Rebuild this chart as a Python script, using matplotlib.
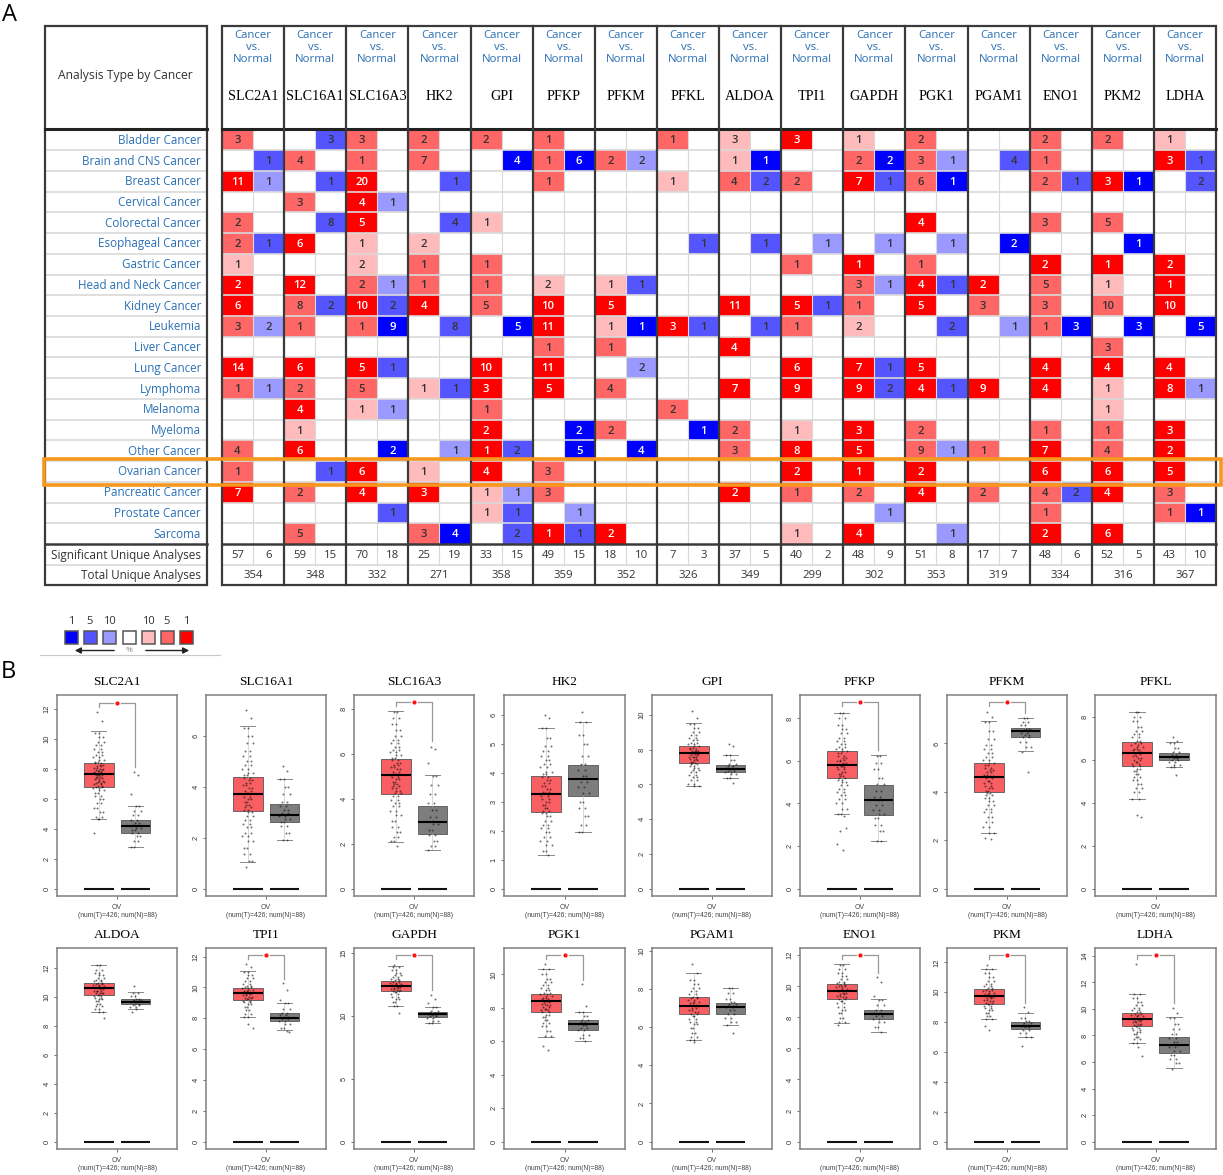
#!/usr/bin/env python3
"""Oncomine summary table (A) and GEPIA box plots for ovarian cancer (B)."""

import matplotlib
matplotlib.use("Agg")
import matplotlib.pyplot as plt
import numpy as np
from matplotlib.colors import ListedColormap
from matplotlib.patches import Rectangle

W, H = 1223, 1175

# ---- panel A data ----
GENES_A = ["SLC2A1", "SLC16A1", "SLC16A3", "HK2", "GPI", "PFKP", "PFKM", "PFKL",
           "ALDOA", "TPI1", "GAPDH", "PGK1", "PGAM1", "ENO1", "PKM2", "LDHA"]
CANCERS = ["Bladder Cancer", "Brain and CNS Cancer", "Breast Cancer", "Cervical Cancer",
           "Colorectal Cancer", "Esophageal Cancer", "Gastric Cancer", "Head and Neck Cancer",
           "Kidney Cancer", "Leukemia", "Liver Cancer", "Lung Cancer", "Lymphoma", "Melanoma",
           "Myeloma", "Other Cancer", "Ovarian Cancer", "Pancreatic Cancer", "Prostate Cancer",
           "Sarcoma"]
UP_COUNT = [
    [3, 0, 3, 2, 2, 1, 0, 1, 3, 3, 1, 2, 0, 2, 2, 1],
    [0, 4, 1, 7, 0, 1, 2, 0, 1, 0, 2, 3, 0, 1, 0, 3],
    [11, 0, 20, 0, 0, 1, 0, 1, 4, 2, 7, 6, 0, 2, 3, 0],
    [0, 3, 4, 0, 0, 0, 0, 0, 0, 0, 0, 0, 0, 0, 0, 0],
    [2, 0, 5, 0, 1, 0, 0, 0, 0, 0, 0, 4, 0, 3, 5, 0],
    [2, 6, 1, 2, 0, 0, 0, 0, 0, 0, 0, 0, 0, 0, 0, 0],
    [1, 0, 2, 1, 1, 0, 0, 0, 0, 1, 1, 1, 0, 2, 1, 2],
    [2, 12, 2, 1, 1, 2, 1, 0, 0, 0, 3, 4, 2, 5, 1, 1],
    [6, 8, 10, 4, 5, 10, 5, 0, 11, 5, 1, 5, 3, 3, 10, 10],
    [3, 1, 1, 0, 0, 11, 1, 3, 0, 1, 2, 0, 0, 1, 0, 0],
    [0, 0, 0, 0, 0, 1, 1, 0, 4, 0, 0, 0, 0, 0, 3, 0],
    [14, 6, 5, 0, 10, 11, 0, 0, 0, 6, 7, 5, 0, 4, 4, 4],
    [1, 2, 5, 1, 3, 5, 4, 0, 7, 9, 9, 4, 9, 4, 1, 8],
    [0, 4, 1, 0, 1, 0, 0, 2, 0, 0, 0, 0, 0, 0, 1, 0],
    [0, 1, 0, 0, 2, 0, 2, 0, 2, 1, 3, 2, 0, 1, 1, 3],
    [4, 6, 0, 0, 1, 0, 0, 0, 3, 8, 5, 9, 1, 7, 4, 2],
    [1, 0, 6, 1, 4, 3, 0, 0, 0, 2, 1, 2, 0, 6, 6, 5],
    [7, 2, 4, 3, 1, 3, 0, 0, 2, 1, 2, 4, 2, 4, 4, 3],
    [0, 0, 0, 0, 1, 0, 0, 0, 0, 0, 0, 0, 0, 1, 0, 1],
    [0, 5, 0, 3, 0, 1, 2, 0, 0, 1, 4, 0, 0, 2, 6, 0],
]
# gene rank bucket of each cell: 1, 5 or 10 (% of top genes), 0 = no analysis
UP_RANK = [
    [5, 0, 5, 5, 5, 5, 0, 5, 10, 1, 10, 5, 0, 5, 5, 10],
    [0, 5, 5, 5, 0, 5, 5, 0, 10, 0, 5, 5, 0, 5, 0, 1],
    [1, 0, 1, 0, 0, 5, 0, 10, 5, 5, 1, 5, 0, 5, 1, 0],
    [0, 5, 1, 0, 0, 0, 0, 0, 0, 0, 0, 0, 0, 0, 0, 0],
    [5, 0, 1, 0, 10, 0, 0, 0, 0, 0, 0, 1, 0, 5, 5, 0],
    [5, 1, 10, 10, 0, 0, 0, 0, 0, 0, 0, 0, 0, 0, 0, 0],
    [10, 0, 10, 5, 5, 0, 0, 0, 0, 5, 1, 5, 0, 1, 1, 1],
    [1, 1, 5, 5, 5, 10, 10, 0, 0, 0, 5, 1, 1, 5, 10, 1],
    [1, 5, 1, 1, 5, 1, 1, 0, 1, 1, 5, 1, 5, 5, 5, 1],
    [5, 5, 5, 0, 0, 1, 10, 1, 0, 5, 10, 0, 0, 5, 0, 0],
    [0, 0, 0, 0, 0, 5, 5, 0, 1, 0, 0, 0, 0, 0, 5, 0],
    [1, 1, 1, 0, 1, 1, 0, 0, 0, 1, 1, 1, 0, 1, 1, 1],
    [5, 5, 5, 10, 1, 1, 5, 0, 1, 1, 1, 1, 1, 1, 10, 1],
    [0, 1, 10, 0, 5, 0, 0, 5, 0, 0, 0, 0, 0, 0, 10, 0],
    [0, 10, 0, 0, 1, 0, 5, 0, 5, 10, 1, 5, 0, 5, 5, 1],
    [5, 1, 0, 0, 1, 0, 0, 0, 5, 1, 1, 5, 5, 1, 5, 1],
    [5, 0, 1, 10, 1, 5, 0, 0, 0, 1, 1, 1, 0, 1, 1, 1],
    [1, 5, 1, 1, 10, 5, 0, 0, 1, 5, 5, 1, 5, 5, 1, 5],
    [0, 0, 0, 0, 10, 0, 0, 0, 0, 0, 0, 0, 0, 5, 0, 5],
    [0, 5, 0, 5, 0, 1, 1, 0, 0, 10, 1, 0, 0, 1, 1, 0],
]
DOWN_COUNT = [
    [0, 3, 0, 0, 0, 0, 0, 0, 0, 0, 0, 0, 0, 0, 0, 0],
    [1, 0, 0, 0, 4, 6, 2, 0, 1, 0, 2, 1, 4, 0, 0, 1],
    [1, 1, 0, 1, 0, 0, 0, 0, 2, 0, 1, 1, 0, 1, 1, 2],
    [0, 0, 1, 0, 0, 0, 0, 0, 0, 0, 0, 0, 0, 0, 0, 0],
    [0, 8, 0, 4, 0, 0, 0, 0, 0, 0, 0, 0, 0, 0, 0, 0],
    [1, 0, 0, 0, 0, 0, 0, 1, 1, 1, 1, 1, 2, 0, 1, 0],
    [0, 0, 0, 0, 0, 0, 0, 0, 0, 0, 0, 0, 0, 0, 0, 0],
    [0, 0, 1, 0, 0, 0, 1, 0, 0, 0, 1, 1, 0, 0, 0, 0],
    [0, 2, 2, 0, 0, 0, 0, 0, 0, 1, 0, 0, 0, 0, 0, 0],
    [2, 0, 9, 8, 5, 0, 1, 1, 1, 0, 0, 2, 1, 3, 3, 5],
    [0, 0, 0, 0, 0, 0, 0, 0, 0, 0, 0, 0, 0, 0, 0, 0],
    [0, 0, 1, 0, 0, 0, 2, 0, 0, 0, 1, 0, 0, 0, 0, 0],
    [1, 0, 0, 1, 0, 0, 0, 0, 0, 0, 2, 1, 0, 0, 0, 1],
    [0, 0, 1, 0, 0, 0, 0, 0, 0, 0, 0, 0, 0, 0, 0, 0],
    [0, 0, 0, 0, 0, 2, 0, 1, 0, 0, 0, 0, 0, 0, 0, 0],
    [0, 0, 2, 1, 2, 5, 4, 0, 0, 0, 0, 1, 0, 0, 0, 0],
    [0, 1, 0, 0, 0, 0, 0, 0, 0, 0, 0, 0, 0, 0, 0, 0],
    [0, 0, 0, 0, 1, 0, 0, 0, 0, 0, 0, 0, 0, 2, 0, 0],
    [0, 0, 1, 0, 1, 1, 0, 0, 0, 0, 1, 0, 0, 0, 0, 1],
    [0, 0, 0, 4, 2, 1, 0, 0, 0, 0, 0, 1, 0, 0, 0, 0],
]
DOWN_RANK = [
    [0, 5, 0, 0, 0, 0, 0, 0, 0, 0, 0, 0, 0, 0, 0, 0],
    [5, 0, 0, 0, 1, 1, 10, 0, 1, 0, 1, 10, 5, 0, 0, 5],
    [10, 5, 0, 5, 0, 0, 0, 0, 5, 0, 5, 1, 0, 5, 1, 5],
    [0, 0, 10, 0, 0, 0, 0, 0, 0, 0, 0, 0, 0, 0, 0, 0],
    [0, 5, 0, 5, 0, 0, 0, 0, 0, 0, 0, 0, 0, 0, 0, 0],
    [5, 0, 0, 0, 0, 0, 0, 5, 5, 10, 10, 10, 1, 0, 1, 0],
    [0, 0, 0, 0, 0, 0, 0, 0, 0, 0, 0, 0, 0, 0, 0, 0],
    [0, 0, 10, 0, 0, 0, 5, 0, 0, 0, 10, 5, 0, 0, 0, 0],
    [0, 5, 5, 0, 0, 0, 0, 0, 0, 5, 0, 0, 0, 0, 0, 0],
    [10, 0, 1, 5, 1, 0, 1, 5, 5, 0, 0, 5, 10, 1, 1, 1],
    [0, 0, 0, 0, 0, 0, 0, 0, 0, 0, 0, 0, 0, 0, 0, 0],
    [0, 0, 5, 0, 0, 0, 10, 0, 0, 0, 5, 0, 0, 0, 0, 0],
    [10, 0, 0, 5, 0, 0, 0, 0, 0, 0, 5, 5, 0, 0, 0, 10],
    [0, 0, 10, 0, 0, 0, 0, 0, 0, 0, 0, 0, 0, 0, 0, 0],
    [0, 0, 0, 0, 0, 1, 0, 1, 0, 0, 0, 0, 0, 0, 0, 0],
    [0, 0, 1, 10, 5, 1, 1, 0, 0, 0, 0, 10, 0, 0, 0, 0],
    [0, 5, 0, 0, 0, 0, 0, 0, 0, 0, 0, 0, 0, 0, 0, 0],
    [0, 0, 0, 0, 10, 0, 0, 0, 0, 0, 0, 0, 0, 5, 0, 0],
    [0, 0, 5, 0, 5, 10, 0, 0, 0, 0, 10, 0, 0, 0, 0, 1],
    [0, 0, 0, 1, 5, 5, 0, 0, 0, 0, 0, 10, 0, 0, 0, 0],
]
SIG_UP = [57, 59, 70, 25, 33, 49, 18, 7, 37, 40, 48, 51, 17, 48, 52, 43]
SIG_DOWN = [6, 15, 18, 19, 15, 15, 10, 3, 5, 2, 9, 8, 7, 6, 5, 10]
TOTAL = [354, 348, 332, 271, 358, 359, 352, 326, 349, 299, 302, 353, 319, 334, 316, 367]
LEGEND_LABELS = ["1", "5", "10", "", "10", "5", "1"]

# ---- panel B data ----
GENES_B = ["SLC2A1", "SLC16A1", "SLC16A3", "HK2", "GPI", "PFKP", "PFKM", "PFKL",
           "ALDOA", "TPI1", "GAPDH", "PGK1", "PGAM1", "ENO1", "PKM", "LDHA"]
YTOP = [12.9, 7.6, 8.6, 6.7, 11.15, 9.1, 8.0, 9.03, 13.4, 12.56, 15.37, 11.58, 10.16, 12.47, 12.96, 14.6]
YTICK_STEP = [2, 2, 2, 1, 2, 2, 2, 2, 2, 2, 5, 2, 2, 2, 2, 2]
# whisker low, q1, median, q3, whisker high
TUMOR_BOX = [
    [4.63, 6.77, 7.62, 8.35, 10.49], [1.04, 3.03, 3.73, 4.37, 6.38],
    [2.09, 4.21, 5.04, 5.77, 7.88], [1.16, 2.66, 3.28, 3.90, 5.55],
    [5.90, 7.23, 7.81, 8.19, 9.54], [3.50, 5.22, 5.82, 6.46, 8.25],
    [2.29, 4.00, 4.61, 5.19, 6.92], [4.20, 5.70, 6.33, 6.82, 8.26],
    [8.94, 10.14, 10.60, 10.97, 12.22], [8.07, 9.20, 9.63, 9.96, 11.04],
    [10.75, 11.92, 12.34, 12.77, 13.94], [6.28, 7.76, 8.40, 8.84, 10.34],
    [5.35, 6.67, 7.14, 7.58, 8.84], [7.67, 9.16, 9.72, 10.17, 11.44],
    [8.19, 9.22, 9.74, 10.19, 11.55], [7.44, 8.73, 9.21, 9.71, 11.10],
]
NORMAL_BOX = [
    [2.74, 3.67, 4.16, 4.57, 5.50], [1.89, 2.60, 2.89, 3.32, 4.30],
    [1.71, 2.43, 2.97, 3.66, 5.03], [1.95, 3.20, 3.78, 4.29, 5.75],
    [6.35, 6.69, 6.90, 7.13, 7.71], [2.24, 3.45, 4.14, 4.89, 6.29],
    [5.67, 6.25, 6.50, 6.65, 7.06], [5.65, 5.99, 6.16, 6.33, 6.83],
    [9.17, 9.49, 9.68, 9.84, 10.32], [7.22, 7.83, 8.03, 8.33, 9.02],
    [9.40, 9.90, 10.09, 10.30, 10.72], [6.02, 6.70, 7.02, 7.28, 7.78],
    [6.14, 6.72, 7.07, 7.25, 8.05], [7.07, 7.91, 8.21, 8.47, 9.18],
    [7.00, 7.54, 7.77, 8.01, 8.64], [5.52, 6.66, 7.29, 7.87, 9.38],
]
# significance bracket: (bracket level, lower end of the right leg), None = not significant
BRACKET = [(12.4, 8.1), None, (8.28, 6.57), None, None, (8.75, 6.5), (7.7, 7.24), None,
           None, (12.1, 10.56), (14.8, 12.05), (11.16, 9.68), None, (12.03, 10.86),
           (12.49, 9.27), (14.08, 10.44)]
# jittered samples, read off the clouds (a sample of what is visible, not all 426 + 88)
TUMOR_PTS = [
    [11.8, 11.2, 10.4, 10.1, 9.8, 9.55, 9.3, 9.1, 8.9, 8.75, 8.6, 8.45, 8.35, 8.25, 8.15, 8.05, 8.0, 7.9, 7.85, 7.75, 7.7, 7.6, 7.55, 7.45, 7.4, 7.3, 7.2, 7.1, 7.05, 6.95, 6.85, 6.8, 6.7, 6.55, 6.4, 6.2, 5.95, 5.7, 5.4, 5.1, 4.8, 4.65, 3.7],
    [7.0, 6.7, 6.3, 6.0, 5.7, 5.4, 5.2, 5.0, 4.85, 4.7, 4.55, 4.45, 4.35, 4.25, 4.15, 4.05, 3.95, 3.85, 3.75, 3.7, 3.6, 3.5, 3.4, 3.3, 3.2, 3.1, 3.0, 2.85, 2.7, 2.55, 2.4, 2.2, 2.05, 1.85, 1.6, 1.35, 1.1, 0.85],
    [7.85, 7.6, 7.3, 7.05, 6.8, 6.6, 6.45, 6.3, 6.15, 6.05, 5.95, 5.8, 5.7, 5.6, 5.5, 5.4, 5.3, 5.2, 5.1, 5.05, 4.95, 4.85, 4.75, 4.65, 4.55, 4.45, 4.35, 4.25, 4.1, 3.95, 3.8, 3.65, 3.45, 3.25, 3.0, 2.75, 2.5, 2.3, 2.1, 1.9],
    [6.0, 5.9, 5.55, 5.2, 4.95, 4.75, 4.6, 4.45, 4.3, 4.2, 4.05, 3.95, 3.85, 3.75, 3.65, 3.55, 3.45, 3.35, 3.3, 3.2, 3.1, 3.0, 2.9, 2.8, 2.7, 2.6, 2.5, 2.35, 2.2, 2.1, 1.95, 1.8, 1.65, 1.5, 1.3, 1.15],
    [10.2, 9.8, 9.5, 9.25, 9.0, 8.85, 8.7, 8.55, 8.4, 8.3, 8.2, 8.1, 8.05, 7.95, 7.9, 7.8, 7.75, 7.7, 7.6, 7.55, 7.45, 7.4, 7.3, 7.25, 7.15, 7.05, 6.95, 6.85, 6.7, 6.55, 6.4, 6.25, 6.05, 5.9],
    [8.25, 8.0, 7.7, 7.5, 7.3, 7.1, 6.95, 6.8, 6.65, 6.55, 6.45, 6.35, 6.25, 6.15, 6.05, 6.0, 5.9, 5.85, 5.75, 5.7, 5.6, 5.5, 5.4, 5.3, 5.2, 5.1, 5.0, 4.85, 4.7, 4.55, 4.4, 4.2, 4.0, 3.75, 3.5, 3.4, 2.85, 2.7, 2.1, 1.8],
    [7.3, 7.1, 6.9, 6.5, 6.2, 5.95, 5.75, 5.6, 5.45, 5.3, 5.2, 5.1, 5.0, 4.9, 4.8, 4.7, 4.65, 4.55, 4.45, 4.35, 4.25, 4.15, 4.05, 3.95, 3.85, 3.75, 3.6, 3.45, 3.3, 3.15, 2.95, 2.75, 2.55, 2.3, 2.1, 2.05],
    [8.25, 8.0, 7.8, 7.55, 7.35, 7.2, 7.05, 6.9, 6.8, 6.7, 6.6, 6.5, 6.45, 6.35, 6.3, 6.2, 6.1, 6.0, 5.9, 5.8, 5.7, 5.6, 5.5, 5.35, 5.2, 5.05, 4.9, 4.7, 4.5, 4.2, 3.45, 3.35],
    [12.2, 11.9, 11.7, 11.5, 11.35, 11.2, 11.1, 11.0, 10.9, 10.85, 10.75, 10.7, 10.6, 10.55, 10.45, 10.4, 10.3, 10.25, 10.15, 10.05, 9.95, 9.85, 9.7, 9.55, 9.35, 9.15, 8.95, 8.55],
    [11.5, 11.3, 11.0, 10.8, 10.6, 10.4, 10.25, 10.1, 10.0, 9.95, 9.85, 9.8, 9.7, 9.65, 9.55, 9.5, 9.4, 9.3, 9.25, 9.15, 9.05, 8.9, 8.75, 8.55, 8.3, 8.1, 7.6, 7.4],
    [14.05, 13.9, 13.6, 13.4, 13.2, 13.05, 12.9, 12.8, 12.7, 12.6, 12.5, 12.45, 12.35, 12.3, 12.2, 12.1, 12.05, 11.95, 11.85, 11.7, 11.5, 11.3, 11.05, 10.8, 10.2],
    [10.6, 10.3, 10.0, 9.75, 9.55, 9.35, 9.2, 9.05, 8.9, 8.8, 8.7, 8.6, 8.5, 8.4, 8.35, 8.25, 8.15, 8.05, 7.95, 7.85, 7.75, 7.6, 7.45, 7.3, 7.1, 6.9, 6.6, 6.3, 5.7, 5.45],
    [9.3, 8.85, 8.5, 8.25, 8.05, 7.9, 7.75, 7.6, 7.55, 7.45, 7.35, 7.25, 7.15, 7.1, 7.0, 6.9, 6.8, 6.7, 6.6, 6.45, 6.3, 6.15, 5.95, 5.7, 5.5, 5.35, 5.2],
    [11.4, 11.1, 10.85, 10.65, 10.45, 10.3, 10.2, 10.1, 10.0, 9.95, 9.85, 9.75, 9.7, 9.6, 9.5, 9.4, 9.3, 9.2, 9.05, 8.9, 8.7, 8.5, 8.25, 7.95, 7.7, 7.5],
    [11.8, 11.55, 11.3, 11.0, 10.75, 10.55, 10.4, 10.25, 10.15, 10.05, 9.95, 9.85, 9.75, 9.7, 9.6, 9.5, 9.4, 9.3, 9.2, 9.1, 8.95, 8.8, 8.6, 8.4, 8.2, 7.75, 7.45],
    [13.4, 11.1, 10.8, 10.5, 10.3, 10.1, 9.9, 9.75, 9.65, 9.55, 9.45, 9.35, 9.25, 9.2, 9.1, 9.0, 8.9, 8.8, 8.7, 8.6, 8.45, 8.3, 8.1, 7.9, 7.7, 7.45, 7.1, 6.45],
]
NORMAL_PTS = [
    [7.8, 7.6, 6.3, 5.5, 5.2, 4.9, 4.6, 4.4, 4.25, 4.15, 4.05, 3.9, 3.7, 3.5, 3.2, 2.75],
    [4.8, 4.6, 4.3, 4.0, 3.7, 3.4, 3.25, 3.1, 2.95, 2.85, 2.75, 2.6, 2.45, 2.2, 1.9],
    [6.3, 6.2, 5.6, 5.0, 4.6, 4.2, 3.8, 3.5, 3.2, 3.0, 2.85, 2.6, 2.4, 2.1, 1.9, 1.7],
    [6.1, 5.75, 5.3, 5.0, 4.6, 4.3, 4.1, 3.9, 3.7, 3.5, 3.3, 3.0, 2.8, 2.5, 2.2, 1.95],
    [8.35, 8.2, 7.7, 7.4, 7.2, 7.05, 6.95, 6.9, 6.8, 6.7, 6.6, 6.35, 6.1],
    [6.25, 5.9, 5.6, 5.2, 4.9, 4.6, 4.3, 4.15, 3.95, 3.7, 3.5, 3.3, 3.0, 2.7, 2.25],
    [7.05, 6.9, 6.75, 6.6, 6.55, 6.5, 6.45, 6.35, 6.25, 6.05, 5.85, 5.65, 4.8],
    [7.05, 6.9, 6.8, 6.55, 6.35, 6.25, 6.15, 6.1, 6.0, 5.9, 5.75, 5.65, 5.3],
    [10.8, 10.3, 10.05, 9.9, 9.8, 9.7, 9.65, 9.55, 9.45, 9.3, 9.15, 8.95],
    [10.3, 9.85, 9.2, 9.0, 8.6, 8.35, 8.2, 8.05, 7.95, 7.85, 7.6, 7.4, 7.2, 7.1],
    [11.65, 11.3, 11.0, 10.7, 10.4, 10.2, 10.1, 10.05, 9.95, 9.8, 9.6, 9.4],
    [9.4, 8.1, 7.75, 7.5, 7.3, 7.15, 7.05, 6.95, 6.8, 6.65, 6.4, 6.2, 6.0],
    [8.05, 7.8, 7.5, 7.3, 7.2, 7.1, 7.05, 6.9, 6.7, 6.5, 6.3, 6.1, 5.7],
    [10.6, 10.3, 9.4, 9.15, 8.8, 8.5, 8.3, 8.2, 8.1, 7.9, 7.7, 7.4, 7.05],
    [9.0, 8.7, 8.3, 8.1, 7.95, 7.8, 7.75, 7.65, 7.5, 7.3, 7.0, 6.4],
    [10.1, 9.7, 9.35, 8.9, 8.5, 8.1, 7.8, 7.5, 7.3, 7.1, 6.8, 6.5, 6.2, 5.9, 5.5],
]
# x scatter of the cloud dots around their box, cycled; two passes because each
# read value inside the whiskers stands for several dots of the real cloud
JITTER = [-0.04, 0.08, -0.11, 0.02, 0.14, -0.07, 0.05, -0.01, 0.1, -0.15, 0.01,
          -0.09, 0.06, 0.12, -0.05, -0.12, 0.03, 0.09, -0.02, -0.14, 0.07, 0.0, -0.08]
JITTER_2 = [0.03, -0.08, 0.0, 0.11, -0.03, 0.06, -0.13, 0.09, -0.06, 0.02, 0.15,
            -0.01, -0.1, 0.04, 0.07, -0.04, 0.12, -0.07, 0.01, 0.05, -0.11, 0.08, -0.02]

# ---- styles ----
RED = {1: "#ff0000", 5: "#ff6666", 10: "#ffbbbb"}
BLUE = {1: "#0000ff", 5: "#5555ff", 10: "#9999ff"}
LINK = "#2b70b5"
DARK = "#3a3a3a"
SANS = ["Open Sans", "DejaVu Sans"]
SERIF = ["Liberation Serif", "DejaVu Serif"]

# layout in picture pixels
COLS_X0, COLS_X1 = 222, 1216
ROWS_Y0, ROWS_Y1 = 129.5, 544
LEFT_X0, LEFT_X1 = 45, 206.5
HEAD_Y0 = 26
SIG_Y, TOTAL_Y, END_Y = 544, 564.5, 585
PANELS_X = [(57, 177), (206, 326), (354, 474), (504, 625), (652, 772), (800, 920), (947, 1067), (1095, 1216)]
PANELS_Y = [(695, 896), (948, 1149)]
COL_W = (COLS_X1 - COLS_X0) / 16


def px_axes(fig, x0, y0, x1, y1):
    """Axes placed by picture pixels (y measured from the top)."""
    return fig.add_axes([x0 / W, 1 - y1 / H, (x1 - x0) / W, (y1 - y0) / H])


def draw_heatmap(fig):
    ax = px_axes(fig, COLS_X0, ROWS_Y0, COLS_X1, ROWS_Y1)
    # colours: index 0 white, then blue 1/5/10, red 10/5/1
    cmap = ListedColormap(["#ffffff", BLUE[1], BLUE[5], BLUE[10], RED[10], RED[5], RED[1]])
    red_idx = {0: 0, 10: 4, 5: 5, 1: 6}
    blue_idx = {0: 0, 1: 1, 5: 2, 10: 3}
    cells = np.zeros((len(CANCERS), 2 * len(GENES_A)), dtype=int)
    for r in range(len(CANCERS)):
        for g in range(len(GENES_A)):
            cells[r, 2 * g] = red_idx[UP_RANK[r][g]]
            cells[r, 2 * g + 1] = blue_idx[DOWN_RANK[r][g]]
    ax.pcolormesh(np.arange(33), np.arange(21), cells, cmap=cmap, vmin=-0.5, vmax=6.5,
                  edgecolors="none")
    ax.set_xlim(0, 32)
    ax.set_ylim(20, 0)
    ax.axis("off")
    for x in range(1, 32, 2):
        ax.axvline(x, color="#d9d9d9", lw=0.8, zorder=1.5)
    for y in range(1, 20):
        ax.axhline(y, color="#d9d9d9", lw=1.2, zorder=1.5)
    for r in range(len(CANCERS)):
        for g in range(len(GENES_A)):
            if UP_COUNT[r][g]:
                c = "white" if UP_RANK[r][g] == 1 else "#333333"
                ax.text(2 * g + 0.5, r + 0.55, str(UP_COUNT[r][g]), color=c, fontsize=8.2,
                        ha="center", va="center", family=SANS, fontweight="semibold")
            if DOWN_COUNT[r][g]:
                c = "white" if DOWN_RANK[r][g] == 1 else "#333333"
                ax.text(2 * g + 1.5, r + 0.55, str(DOWN_COUNT[r][g]), color=c, fontsize=8.2,
                        ha="center", va="center", family=SANS, fontweight="semibold")


def draw_frames(ax):
    """Table frames, header and summary rows, on the full-figure pixel axes."""
    row_h = (ROWS_Y1 - ROWS_Y0) / len(CANCERS)
    ax.text(125, 76, "Analysis Type by Cancer", ha="center", va="center", fontsize=8.7,
            color="#333333", family=SANS)
    for i, name in enumerate(CANCERS):
        ax.text(201, ROWS_Y0 + (i + 0.5) * row_h + 0.5, name, ha="right", va="center", fontsize=8.4,
                color=LINK, family=SANS)
        ax.plot([LEFT_X0, LEFT_X1], [ROWS_Y0 + i * row_h] * 2, color="#d9d9d9", lw=1.2, zorder=1)
    ax.text(201, 555, "Significant Unique Analyses", ha="right", va="center", fontsize=8.5,
            color="#333333", family=SANS)
    ax.text(201, 576, "Total Unique Analyses", ha="right", va="center", fontsize=8.4,
            color="#333333", family=SANS)
    for x0, x1 in [(LEFT_X0, LEFT_X1), (COLS_X0, COLS_X1)]:
        ax.add_patch(Rectangle((x0, HEAD_Y0), x1 - x0, END_Y - HEAD_Y0, fill=False,
                               ec=DARK, lw=1.6, zorder=3))
        ax.plot([x0, x1], [ROWS_Y0 - 0.5] * 2, color="#222222", lw=2.2, zorder=3)
        ax.plot([x0, x1], [SIG_Y] * 2, color=DARK, lw=1.8, zorder=3)
        ax.plot([x0, x1], [TOTAL_Y] * 2, color="#d9d9d9", lw=1.2, zorder=2)

    for g, gene in enumerate(GENES_A):
        xc = COLS_X0 + (g + 0.5) * COL_W
        xl = COLS_X0 + g * COL_W
        if g:
            ax.plot([xl, xl], [HEAD_Y0, END_Y], color=DARK, lw=1.6, zorder=3)
        ax.text(xc, 36, "Cancer", ha="center", va="center", color=LINK, fontsize=8.2, family=SANS)
        ax.text(xc, 47.5, "vs.", ha="center", va="center", color=LINK, fontsize=8.2, family=SANS)
        ax.text(xc, 59, "Normal", ha="center", va="center", color=LINK, fontsize=8.2, family=SANS)
        ax.text(xc, 96.5, gene, ha="center", va="center", color="black", fontsize=10.2, family=SERIF)
        ax.plot([xc, xc], [SIG_Y, TOTAL_Y], color="#d9d9d9", lw=0.8, zorder=2)
        ax.text(xc - COL_W / 4, 555, str(SIG_UP[g]), ha="center", va="center", fontsize=8.2,
                color="#333333", family=SANS)
        ax.text(xc + COL_W / 4, 555, str(SIG_DOWN[g]), ha="center", va="center", fontsize=8.2,
                color="#333333", family=SANS)
        ax.text(xc, 576, str(TOTAL[g]), ha="center", va="center", fontsize=8.2,
                color="#333333", family=SANS)

    # ovarian highlight
    ax.add_patch(Rectangle((44, 459), 1177, 26, fill=False, ec="#f7971e", lw=2.6, zorder=5))


def draw_legend(ax):
    colors = [BLUE[1], BLUE[5], BLUE[10], "#ffffff", RED[10], RED[5], RED[1]]
    for x, col, lab in zip([71, 90, 109.5, 129, 148, 167, 186.5], colors, LEGEND_LABELS):
        ax.add_patch(Rectangle((x - 6.5, 630.5), 13, 13, fc=col, ec="#555555", lw=1.1))
        ax.text(x, 622, lab, ha="center", va="center", fontsize=8, color="#333333", family=SANS)
    ax.annotate("", xy=(72, 650.5), xytext=(117, 650.5),
                arrowprops=dict(arrowstyle="-|>", color="#222222", lw=1, mutation_scale=9))
    ax.annotate("", xy=(192, 650.5), xytext=(143, 650.5),
                arrowprops=dict(arrowstyle="-|>", color="#222222", lw=1, mutation_scale=9))
    ax.text(129, 651, "%", ha="center", va="center", fontsize=6, color="#888888", family=SANS)
    ax.plot([40, 220], [654.5, 654.5], color="#c8c8c8", lw=0.8)


def draw_box_panel(fig, idx):
    row, col = divmod(idx, 8)
    x0, x1 = PANELS_X[col]
    y0, y1 = PANELS_Y[row]
    ax = px_axes(fig, x0, y0, x1, y1)
    ytop = YTOP[idx]
    ylow = -0.0385 * ytop

    stats = []
    for box in (TUMOR_BOX[idx], NORMAL_BOX[idx]):
        stats.append(dict(whislo=box[0], q1=box[1], med=box[2], q3=box[3], whishi=box[4], fliers=[]))
    parts = ax.bxp(stats, positions=[1, 2], widths=0.81, patch_artist=True, showfliers=False,
                   medianprops=dict(color="black", lw=1.5, zorder=5),
                   boxprops=dict(edgecolor="#555555", lw=0.6),
                   whiskerprops=dict(color="#c8c8c8", lw=0.5),
                   capprops=dict(color="#888888", lw=0.7), capwidths=0.42)
    parts["boxes"][0].set_facecolor("#f95f62")
    parts["boxes"][1].set_facecolor("#7d7d7d")

    for pos, pts, box in ((1, TUMOR_PTS[idx], TUMOR_BOX[idx]), (2, NORMAL_PTS[idx], NORMAL_BOX[idx])):
        xs = [pos + JITTER[i % len(JITTER)] for i in range(len(pts))]
        ax.scatter(xs, pts, s=2.0, color="#111111", alpha=0.6, linewidths=0, zorder=4)
        # second pass skips the outliers, those are single dots in the picture
        inner = [(i, v) for i, v in enumerate(pts) if box[0] <= v <= box[4]]
        xs2 = [pos + JITTER_2[i % len(JITTER_2)] for i, v in inner]
        ax.scatter(xs2, [v for i, v in inner], s=2.0, color="#111111", alpha=0.6, linewidths=0, zorder=4)

    # collapsed zero boxes at the bottom
    ax.hlines([0, 0], [0.595, 1.595], [1.405, 2.405], color="#111111", lw=1.5, zorder=4)

    if BRACKET[idx]:
        level, right_end = BRACKET[idx]
        left_end = level - 0.02 * (ytop - ylow)
        ax.plot([1, 1, 1.38], [left_end, level, level], color="#999999", lw=0.9, zorder=3)
        ax.plot([1.62, 2, 2], [level, level, right_end], color="#999999", lw=0.9, zorder=3)
        ax.plot([1.5], [level], "o", color="#ff1111", ms=2.0, zorder=5)

    ax.set_xlim(-0.133, 3.13)
    ax.set_ylim(ylow, ytop)
    ax.set_xticks([1.5])
    ax.set_xticklabels([""])
    ax.set_yticks(np.arange(0, ytop, YTICK_STEP[idx]))
    ax.tick_params(axis="y", labelsize=5.4, length=2.5, width=0.6, color="#555555",
                   labelcolor="#333333", pad=2)
    ax.tick_params(axis="x", length=2, width=0.6, color="#555555")
    for lab in ax.get_yticklabels():
        lab.set_rotation(90)
        lab.set_va("center")
        lab.set_family("Liberation Sans")
    for sp in ax.spines.values():
        sp.set_color("#808080")
        sp.set_linewidth(1.1)
    ax.text(0.5, -0.058, "OV", transform=ax.transAxes, ha="center", va="center", fontsize=5,
            color="#444444", family="Liberation Sans")
    ax.text(0.5, -0.098, "(num(T)=426; num(N)=88)", transform=ax.transAxes, ha="center",
            va="center", fontsize=4.9, color="#444444", family="Liberation Sans")
    ax.set_title(GENES_B[idx], fontsize=9.6, family=SERIF, color="black", pad=7)


def main():
    fig = plt.figure(figsize=(W / 100, H / 100), dpi=100, facecolor="white")

    draw_heatmap(fig)
    # frames sit above the heatmap cells
    top = fig.add_axes([0, 0, 1, 1], facecolor="none")
    top.set_xlim(0, W)
    top.set_ylim(H, 0)
    top.axis("off")
    draw_frames(top)
    draw_legend(top)
    top.text(9, 15, "A", ha="center", va="center", fontsize=17, color="black", family=SANS)
    top.text(8, 672, "B", ha="center", va="center", fontsize=17, color="black", family=SANS)

    for i in range(len(GENES_B)):
        draw_box_panel(fig, i)

    fig.savefig("out.png", dpi=100)


if __name__ == "__main__":
    main()
